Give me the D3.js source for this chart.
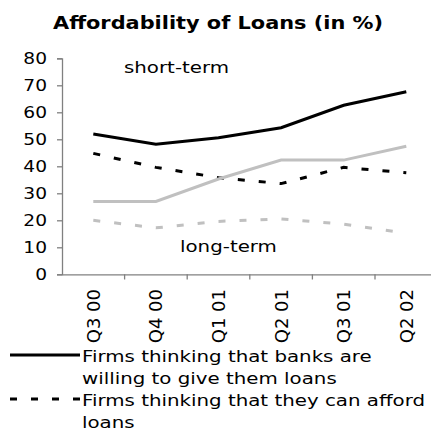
<!DOCTYPE html>
<html><head><meta charset="utf-8">
<script src="https://cdn.jsdelivr.net/npm/d3@7"></script>
<style>body{margin:0;background:#fff;overflow:hidden}svg{display:block}text{font-family:"DejaVu Sans",Verdana,sans-serif}</style>
</head><body><svg id="c" width="431" height="430"></svg>
<script>
const categories = ["Q3 00","Q4 00","Q1 01","Q2 01","Q3 01","Q2 02"];
const shortWilling = [52, 48.2, 50.6, 54.3, 62.6, 67.6];
const shortAfford  = [44.8, 39.6, 35.8, 33.6, 39.6, 37.6];
const longWilling  = [27, 27, 35.3, 42.3, 42.3, 47.4];
const longAfford   = [20, 17.2, 19.6, 20.5, 18.6, 15.2];
const yTicks = [0,10,20,30,40,50,60,70,80];
const legendLabels = [["Firms thinking that banks are","willing to give them loans"],["Firms thinking that they can afford","loans"]];

const STRETCH = 1.2; // reference text is wider than DejaVu Sans
function widen(sel){
  sel.each(function(){
    const w = this.getComputedTextLength();
    d3.select(this).attr("textLength", w*STRETCH).attr("lengthAdjust","spacingAndGlyphs");
  });
  return sel;
}

const svg = d3.select("#c");
const x = d3.scaleBand().domain(categories).range([62, 437.6]).padding(0);
const y = d3.scaleLinear().domain([0,80]).range([274.3, 58.3]);

svg.append("text").attr("x", 53).attr("y", 29)
  .attr("font-weight","bold").attr("font-size",17).text("Affordability of Loans (in %)")
  .call(s=>s.attr("textLength",330).attr("lengthAdjust","spacingAndGlyphs"));

// axes
const ya = svg.append("g").attr("transform","translate(62,0)")
  .call(d3.axisLeft(y).tickValues(yTicks).tickSize(5).tickPadding(10).tickFormat(d3.format("d")));
ya.select(".domain").attr("stroke","#808080").attr("stroke-width",1.3);
ya.selectAll(".tick line").attr("stroke","#808080").attr("stroke-width",1.3);
ya.selectAll(".tick text").attr("font-size",15.5).attr("fill","#000")
  .attr("font-family","DejaVu Sans, sans-serif").attr("dy","0.36em");
widen(ya.selectAll(".tick text"));

const xa = svg.append("g").attr("transform","translate(0,274.3)")
  .call(d3.axisBottom(x).tickSize(0).tickFormat(""));
xa.select(".domain").attr("stroke","#808080").attr("stroke-width",1.3);
const bounds = categories.map(c => x(c)).concat([x.range()[1]]);
svg.append("g").selectAll("line").data(bounds.slice(1)).join("line")
  .attr("x1", d=>d).attr("x2", d=>d).attr("y1",274.3).attr("y2",279.5)
  .attr("stroke","#808080").attr("stroke-width",1.3);
svg.append("g").selectAll("text").data(categories).join("text")
  .attr("transform", d => `translate(${x(d)+x.bandwidth()/2+6.5},289) rotate(-90)`)
  .attr("text-anchor","end").attr("font-size",18).text(d=>d);

const line = d3.line().x((d,i)=>x(categories[i])+x.bandwidth()/2).y(d=>y(d));
const series = [
  {v: shortWilling, c:"#000", dash:null},
  {v: shortAfford, c:"#000", dash:"7,14"},
  {v: longWilling, c:"#c0c0c0", dash:null},
  {v: longAfford, c:"#c0c0c0", dash:"7,14"}
];
svg.append("g").selectAll("path").data(series).join("path")
  .attr("d", d=>line(d.v)).attr("fill","none").attr("stroke",d=>d.c)
  .attr("stroke-width",3).attr("stroke-dasharray",d=>d.dash);

svg.append("text").attr("x",124).attr("y",73).attr("font-size",16.5).text("short-term").call(widen);
svg.append("text").attr("x",180).attr("y",252).attr("font-size",16.5).text("long-term").call(widen);

// legend
const lg = svg.append("g");
const legY = [355, 399];
[null,"7,14"].forEach((dash,i)=>{
  lg.append("line").attr("x1",10).attr("x2",80).attr("y1",legY[i]).attr("y2",legY[i])
    .attr("stroke","#000").attr("stroke-width",3).attr("stroke-dasharray",dash);
  legendLabels[i].forEach((t,j)=>{
    lg.append("text").attr("x",82).attr("y",legY[i]+7+j*21.5).attr("font-size",16.5).text(t).call(widen);
  });
});
</script></body></html>
